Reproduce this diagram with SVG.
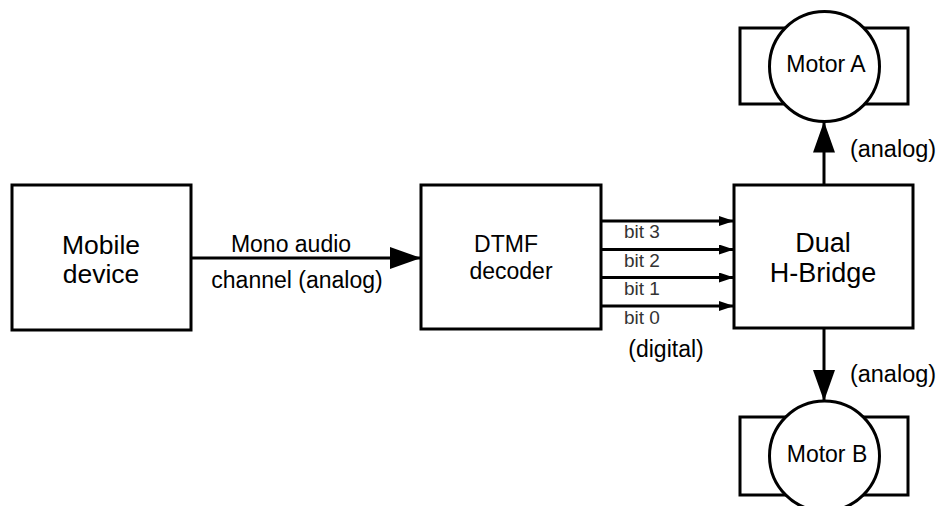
<svg xmlns="http://www.w3.org/2000/svg" width="938" height="506" viewBox="0 0 938 506">
<style>
.box{fill:#fff;stroke:#000;stroke-width:3}
.ln{fill:none;stroke:#000;stroke-width:3}
.t{font-family:"Liberation Sans",Arial,sans-serif;fill:#000;text-anchor:middle}
.bit{font-family:"Liberation Sans",Arial,sans-serif;fill:#333;font-size:19px}
</style>
<defs>
<marker id="big" markerUnits="userSpaceOnUse" markerWidth="32" markerHeight="22" refX="31" refY="11" orient="auto">
<path d="M0,0 L31,11 L0,22 Z" fill="#000"/>
</marker>
<marker id="small" markerUnits="userSpaceOnUse" markerWidth="16" markerHeight="10" refX="15" refY="5" orient="auto">
<path d="M0,0 L15,5 L0,10 Z" fill="#000"/>
</marker>
</defs>
<rect width="938" height="506" fill="#fff"/>
<g id="connectors">
<line class="ln" x1="191" y1="258" x2="421" y2="258" marker-end="url(#big)"/>
<line class="ln" x1="601" y1="221" x2="734" y2="221" marker-end="url(#small)"/>
<line class="ln" x1="601" y1="249.5" x2="734" y2="249.5" marker-end="url(#small)"/>
<line class="ln" x1="601" y1="277.5" x2="734" y2="277.5" marker-end="url(#small)"/>
<line class="ln" x1="601" y1="306" x2="734" y2="306" marker-end="url(#small)"/>
<line class="ln" x1="824" y1="185" x2="824" y2="121.5" marker-end="url(#big)"/>
<line class="ln" x1="824" y1="329" x2="824" y2="401" marker-end="url(#big)"/>
<text class="t" x="291" y="252" font-size="23">Mono audio</text>
<text class="t" x="297" y="288" font-size="23">channel (analog)</text>
<text class="bit" x="624" y="238">bit 3</text>
<text class="bit" x="624" y="267">bit 2</text>
<text class="bit" x="624" y="295">bit 1</text>
<text class="bit" x="624" y="324">bit 0</text>
<text class="t" x="666" y="357" font-size="23">(digital)</text>
<text class="t" x="893" y="157" font-size="23.5">(analog)</text>
<text class="t" x="893" y="382" font-size="23.5">(analog)</text>
</g>
<g id="mobile">
<rect class="box" x="12" y="185" width="179" height="145"/>
<text class="t" x="101" y="254" font-size="26.5">Mobile</text>
<text class="t" x="101" y="283" font-size="26.5">device</text>
</g>
<g id="dtmf">
<rect class="box" x="421" y="185" width="180" height="144"/>
<text class="t" x="506" y="252" font-size="23">DTMF</text>
<text class="t" x="511" y="279" font-size="23">decoder</text>
</g>
<g id="hbridge">
<rect class="box" x="734" y="185" width="179" height="143"/>
<text class="t" x="823" y="252" font-size="27">Dual</text>
<text class="t" x="823" y="282" font-size="27">H-Bridge</text>
</g>
<g id="motorA">
<rect class="box" x="740" y="28" width="168" height="76"/>
<circle class="box" cx="824.5" cy="66.5" r="55"/>
<text class="t" x="826" y="72" font-size="23">Motor A</text>
</g>
<g id="motorB">
<rect class="box" x="740" y="417" width="168" height="78"/>
<circle class="box" cx="824.5" cy="456" r="55"/>
<text class="t" x="827" y="462" font-size="23">Motor B</text>
</g>
</svg>
